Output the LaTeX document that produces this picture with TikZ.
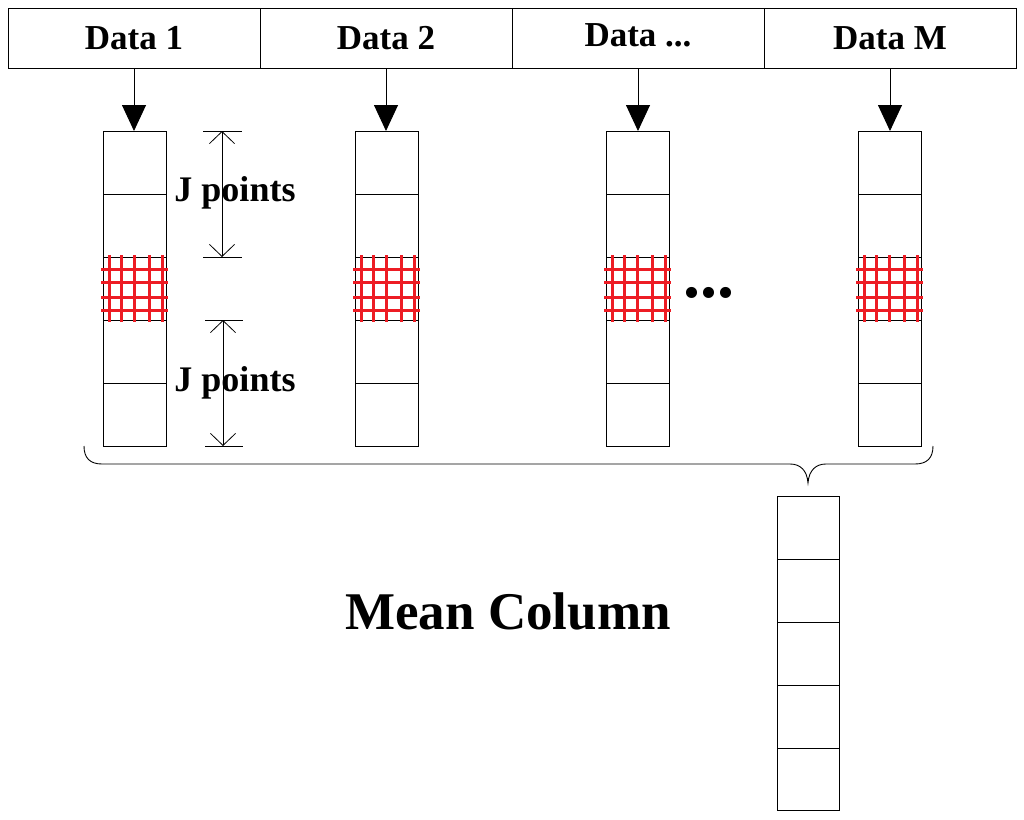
\documentclass[tikz,border=0pt]{standalone}
\usepackage{fontspec}
\setmainfont{Liberation Serif}
\usetikzlibrary{arrows.meta,positioning}
\definecolor{gridred}{RGB}{237,28,36}

\begin{document}
\begin{tikzpicture}[x=0.5pt,y=-0.5pt,line width=0.45pt,
  datacell/.style={draw,minimum width=126pt,minimum height=30pt,inner sep=0pt,text height=11pt,text depth=0pt,font=\fontsize{17.5}{20}\selectfont\bfseries},
  feed/.style={-{Triangle[length=13pt,width=12pt]}},
  dim/.style={{Straight Barb[length=6pt,width=12.5pt]}-{Straight Barb[length=6pt,width=12.5pt]},line width=0.4pt},
  lab/.style={font=\fontsize{18}{20}\selectfont\bfseries}]

\useasboundingbox (0,0) rectangle (1024,820);

% top bar
\node[datacell] (data1) at (134,38) {Data 1};
\node[datacell] (data2) at (386,38) {Data 2};
\node[datacell] (data3) at (638,38) {\raisebox{1.5pt}{Data ...}};
\node[datacell] (data4) at (890,38) {Data M};

% columns with the hatched cell
\foreach \x/\n in {103/1,355/2,606/3,858/4}
  {\draw (\x,131) rectangle ++(63,315);
   \foreach \y in {194,257,320,383}
     \draw (\x,\y) -- ++(63,0);
   \foreach \dx in {6,18,31,46,59}
     \draw[gridred,line width=1.5pt] (\x+\dx,255) -- (\x+\dx,322);
   \foreach \dy in {12,25,40,53}
     \draw[gridred,line width=1.5pt] (\x-2,257+\dy) -- (\x+65,257+\dy);
   \coordinate (top\n) at (\x+31.5,131);
   \draw[feed] (data\n.south) -- (data\n.south |- top\n);}

% J points
\coordinate (ja) at (222,131);
\coordinate (jb) at (222,257);
\coordinate (jc) at (223,320);
\coordinate (jd) at (223,446);
\draw[line width=0.4pt] (203,131) -- (242,131) (203,257) -- (242,257);
\draw[line width=0.4pt] (205,320) -- (243,320) (205,446) -- (243,446);
\draw[dim] (ja) -- (jb);
\draw[dim] (jc) -- (jd);
\node[lab] (jtop) at (235,193) {J points};
\node[lab] (jbot) at (235,383) {J points};

\node[font=\fontsize{34}{36}\selectfont\bfseries,anchor=base] (dots) at (709,297) {...};

% brace
\draw (84,446) .. controls (84,458) and (90,464) .. (102,464) -- (790,464)
  .. controls (800,464) and (807,470) .. (808,483)
  .. controls (809,470) and (816,464) .. (826,464) -- (915,464)
  .. controls (927,464) and (933,458) .. (933,446);

% mean column
\draw (777,496) rectangle (839,810);
\foreach \y in {559,622,685,748}
  \draw (777,\y) -- (839,\y);

\node[font=\fontsize{26.5}{30}\selectfont\bfseries] (mean) at (508,611) {Mean Column};

\end{tikzpicture}
\end{document}
